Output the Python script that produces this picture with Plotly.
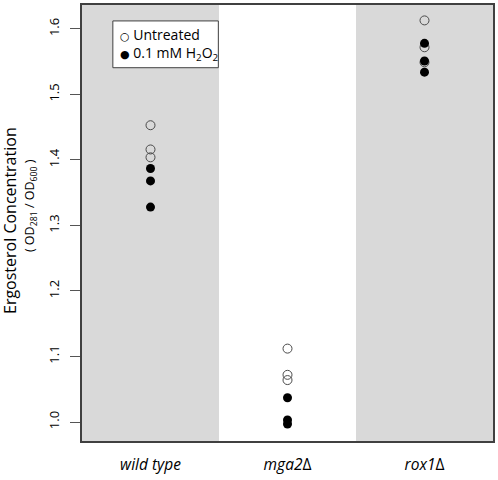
import plotly.graph_objects as go

# ---- data ----
categories = ["wild type", "mga2Δ", "rox1Δ"]
category_labels = ["<i>wild type</i>", "<i>mga2</i>Δ", "<i>rox1</i>Δ"]
untreated = [
    [1.453, 1.416, 1.404],   # wild type
    [1.112, 1.072, 1.064],   # mga2Δ
    [1.613, 1.572, 1.549],   # rox1Δ
]
h2o2 = [
    [1.387, 1.368, 1.328],
    [1.037, 1.003, 0.997],
    [1.578, 1.551, 1.534],
]
y_tick_values = [1.0, 1.1, 1.2, 1.3, 1.4, 1.5, 1.6]
y_tick_labels = ["1.0", "1.1", "1.2", "1.3", "1.4", "1.5", "1.6"]

FONT = "Open Sans"
GRAY_BAND = "#d9d9d9"
FRAME = "#404040"

fig = go.Figure()

pos = list(range(1, len(categories) + 1))

xu, yu, xt, yt = [], [], [], []
for p, vals in zip(pos, untreated):
    xu += [p] * len(vals)
    yu += vals
for p, vals in zip(pos, h2o2):
    xt += [p] * len(vals)
    yt += vals

fig.add_trace(go.Scatter(
    x=xu, y=yu, mode="markers", name="Untreated", showlegend=False,
    marker=dict(symbol="circle-open", size=9, color="#4a4a4a", line=dict(width=1)),
))
fig.add_trace(go.Scatter(
    x=xt, y=yt, mode="markers", name="0.1 mM H2O2", showlegend=False,
    marker=dict(symbol="circle", size=9, color="black", line=dict(width=0)),
))

# alternating background bands
shapes = []
for i, p in enumerate(pos):
    if i % 2 == 0:
        shapes.append(dict(type="rect", xref="x", yref="paper", x0=p - 0.5, x1=p + 0.5,
                           y0=0, y1=1, fillcolor=GRAY_BAND, line=dict(width=0), layer="below"))
# legend box
shapes.append(dict(type="rect", xref="paper", yref="paper",
                   x0=(113 - 82) / 413, x1=(219 - 82) / 413,
                   y0=(441 - 66) / 438, y1=(441 - 19) / 438,
                   fillcolor="white", line=dict(color=FRAME, width=1), layer="above"))

annotations = [
    dict(text="Ergosterol Concentration", textangle=-90, xref="paper", yref="paper",
         x=0, y=(441 - 220) / 438, xshift=-72, xanchor="center", yanchor="middle",
         showarrow=False, font=dict(family=FONT, size=16, color="black")),
    dict(text="( OD<sub>281</sub> / OD<sub>600</sub> )", textangle=-90, xref="paper", yref="paper",
         x=0, y=(441 - 205) / 438, xshift=-52, xanchor="center", yanchor="middle",
         showarrow=False, font=dict(family=FONT, size=12.5, color="black")),
    dict(text="<span style='font-family:DejaVu Sans;font-size:11px'>○</span> Untreated",
         xref="paper", yref="paper", x=(118 - 82) / 413, y=(441 - 33) / 438,
         xanchor="left", yanchor="middle", showarrow=False, align="left",
         font=dict(family=FONT, size=14, color="black")),
    dict(text="<span style='font-family:DejaVu Sans;font-size:11px'>●</span> 0.1 mM H<sub>2</sub>O<sub>2</sub>",
         xref="paper", yref="paper", x=(118 - 82) / 413, y=(441 - 52) / 438,
         xanchor="left", yanchor="middle", showarrow=False, align="left",
         font=dict(family=FONT, size=14, color="black")),
]

fig.update_layout(
    width=498, height=480,
    margin=dict(l=82, r=3, t=3, b=39),
    paper_bgcolor="white", plot_bgcolor="white",
    shapes=shapes, annotations=annotations,
    font=dict(family=FONT, color="black"),
    xaxis=dict(
        range=[0.5, len(categories) + 0.5], tickvals=pos, ticktext=category_labels,
        showgrid=False, zeroline=False, ticks="", ticklabelstandoff=8,
        showline=True, mirror=True, linecolor=FRAME, linewidth=2,
        tickfont=dict(family=FONT, size=15.5, color="black"),
    ),
    yaxis=dict(
        range=[0.971, 1.6365], tickvals=y_tick_values, ticktext=y_tick_labels,
        showgrid=False, zeroline=False, ticks="outside", ticklen=10, tickwidth=1,
        tickcolor="#555555", tickangle=-90, ticklabelstandoff=6,
        showline=True, mirror=True, linecolor=FRAME, linewidth=2,
        tickfont=dict(family=FONT, size=13, color="black"),
    ),
)

fig.write_html("out.html", config={"displayModeBar": False},
               post_script="document.body.style.margin='0px';")
